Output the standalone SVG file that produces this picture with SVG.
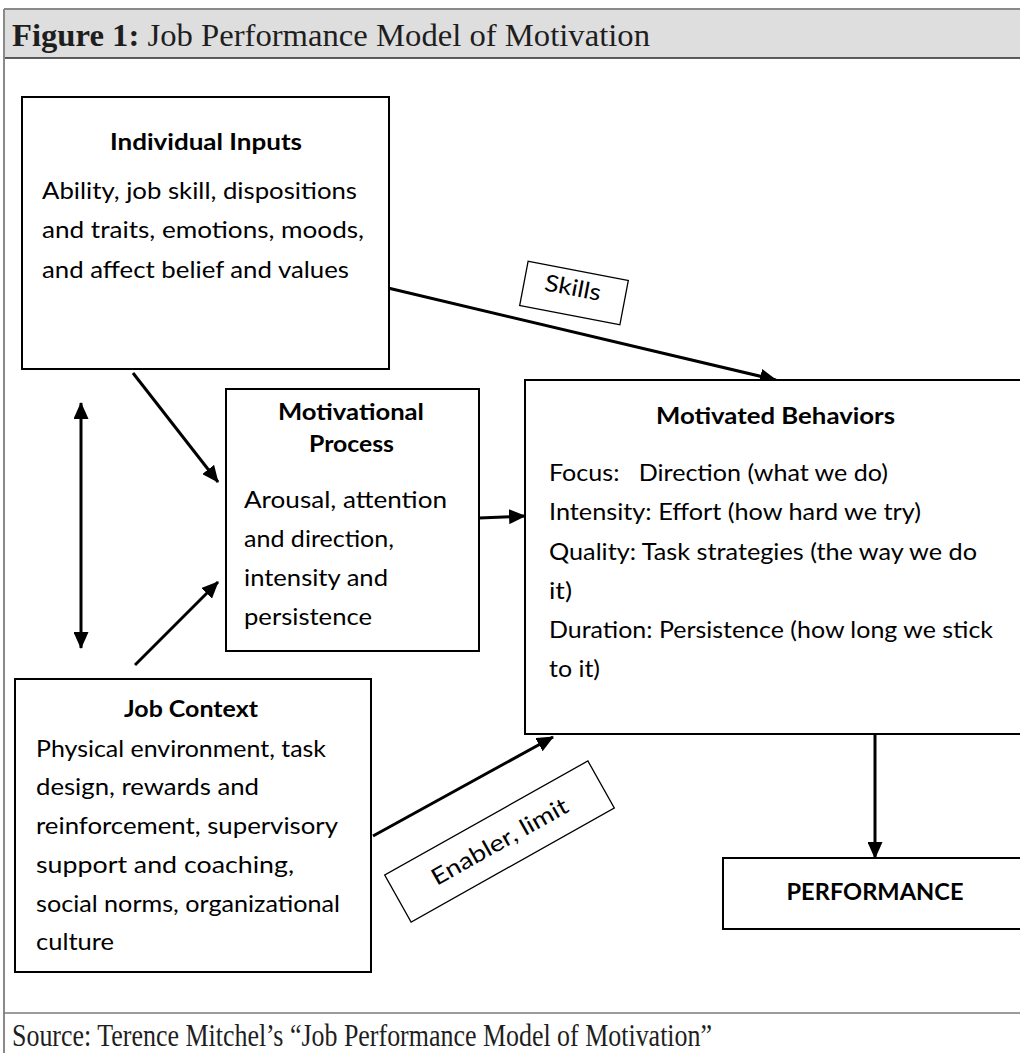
<svg xmlns="http://www.w3.org/2000/svg" width="1020" height="1053" viewBox="0 0 1020 1053">
<style>
  .box { fill: #fff; stroke: #000; stroke-width: 2; }
  .lbl { fill: #fff; stroke: #000; stroke-width: 1.3; }
  .t { font-family: Lato, "Liberation Sans", sans-serif; font-size: 23px; fill: #000; }
  .b { font-weight: bold; font-size: 22px; }
  .c { text-anchor: middle; }
  .conn { stroke: #000; stroke-width: 3; fill: none; }
  .serif { font-family: "Liberation Serif", serif; font-size: 31px; fill: #1e1e1e; }
</style>
<defs>
  <marker id="ah" markerUnits="userSpaceOnUse" markerWidth="17" markerHeight="15" refX="16" refY="7.5" orient="auto-start-reverse" viewBox="0 0 17 15">
    <path d="M0,0 L17,7.5 L0,15 z" fill="#000"/>
  </marker>
</defs>
<rect x="0" y="0" width="1020" height="1053" fill="#fff"/>
<g id="frame">
  <rect x="4" y="9" width="1020" height="49" fill="#dedede"/>
  <line x1="4" y1="9" x2="1020" y2="9" stroke="#8a8a8a" stroke-width="2"/>
  <line x1="4" y1="58" x2="1020" y2="58" stroke="#2a2a2a" stroke-width="1.5"/>
  <line x1="4" y1="9" x2="4" y2="1053" stroke="#8a8a8a" stroke-width="2"/>
  <line x1="4" y1="1013" x2="1020" y2="1013" stroke="#7a7a7a" stroke-width="1.5"/>
  <text class="serif" x="12" y="46" textLength="638" lengthAdjust="spacingAndGlyphs"><tspan font-weight="bold">Figure 1:</tspan> Job Performance Model of Motivation</text>
  <text class="serif" x="12" y="1046" textLength="700" lengthAdjust="spacingAndGlyphs">Source: Terence Mitchel’s “Job Performance Model of Motivation”</text>
</g>
<g id="connectors">
  <line class="conn" x1="388" y1="288" x2="776" y2="380" marker-end="url(#ah)"/>
  <line class="conn" x1="133" y1="373" x2="218" y2="482" marker-end="url(#ah)"/>
  <line class="conn" x1="135" y1="665" x2="218" y2="582" marker-end="url(#ah)"/>
  <line class="conn" x1="81" y1="403" x2="81" y2="648" marker-start="url(#ah)" marker-end="url(#ah)"/>
  <line class="conn" x1="479" y1="518" x2="525" y2="516" marker-end="url(#ah)"/>
  <line class="conn" x1="373" y1="836" x2="553" y2="737" marker-end="url(#ah)"/>
  <line class="conn" x1="875" y1="734" x2="875" y2="858" marker-end="url(#ah)"/>
</g>
<g id="label-skills" transform="translate(574,293) rotate(10.8)">
  <rect class="lbl" x="-51" y="-22.5" width="102" height="45"/>
  <text class="t c" x="-2" y="3" font-size="23" textLength="57" lengthAdjust="spacingAndGlyphs">Skills</text>
</g>
<g id="label-enabler" transform="translate(499.5,841.5) rotate(-29.3)">
  <rect class="lbl" x="-116.5" y="-27" width="233" height="54"/>
  <text class="t c" x="0" y="8" font-size="23" textLength="153" lengthAdjust="spacingAndGlyphs">Enabler, limit</text>
</g>
<g id="individual-inputs">
  <rect class="box" x="22" y="97" width="367" height="272"/>
  <text class="t b c" x="206" y="150" textLength="192" lengthAdjust="spacingAndGlyphs">Individual Inputs</text>
  <text class="t" x="42" y="199" textLength="315" lengthAdjust="spacingAndGlyphs">Ability, job skill, dispositions</text>
  <text class="t" x="42" y="238" textLength="322" lengthAdjust="spacingAndGlyphs">and traits, emotions, moods,</text>
  <text class="t" x="42" y="278" textLength="307" lengthAdjust="spacingAndGlyphs">and affect belief and values</text>
</g>
<g id="motivational-process">
  <rect class="box" x="226" y="389" width="253" height="262"/>
  <text class="t b c" x="351" y="420" textLength="146" lengthAdjust="spacingAndGlyphs">Motivational</text>
  <text class="t b c" x="351.5" y="452" textLength="85" lengthAdjust="spacingAndGlyphs">Process</text>
  <text class="t" x="244" y="508" textLength="203" lengthAdjust="spacingAndGlyphs">Arousal, attention</text>
  <text class="t" x="244" y="547" textLength="150" lengthAdjust="spacingAndGlyphs">and direction,</text>
  <text class="t" x="244" y="586" textLength="144" lengthAdjust="spacingAndGlyphs">intensity and</text>
  <text class="t" x="244" y="625" textLength="128" lengthAdjust="spacingAndGlyphs">persistence</text>
</g>
<g id="motivated-behaviors">
  <rect class="box" x="525" y="380" width="520" height="354"/>
  <text class="t b c" x="775.5" y="424" textLength="239" lengthAdjust="spacingAndGlyphs">Motivated Behaviors</text>
  <text class="t" x="549" y="481" xml:space="preserve" textLength="339" lengthAdjust="spacingAndGlyphs">Focus:   Direction (what we do)</text>
  <text class="t" x="549" y="520" textLength="372" lengthAdjust="spacingAndGlyphs">Intensity: Effort (how hard we try)</text>
  <text class="t" x="549" y="560" textLength="428" lengthAdjust="spacingAndGlyphs">Quality: Task strategies (the way we do</text>
  <text class="t" x="549" y="599" textLength="23" lengthAdjust="spacingAndGlyphs">it)</text>
  <text class="t" x="549" y="638" textLength="444" lengthAdjust="spacingAndGlyphs">Duration: Persistence (how long we stick</text>
  <text class="t" x="549" y="677" textLength="51" lengthAdjust="spacingAndGlyphs">to it)</text>
</g>
<g id="job-context">
  <rect class="box" x="15" y="679" width="356" height="293"/>
  <text class="t b c" x="191" y="717" textLength="134" lengthAdjust="spacingAndGlyphs">Job Context</text>
  <text class="t" x="36" y="757" textLength="290" lengthAdjust="spacingAndGlyphs">Physical environment, task</text>
  <text class="t" x="36" y="795" textLength="223" lengthAdjust="spacingAndGlyphs">design, rewards and</text>
  <text class="t" x="36" y="834" textLength="302" lengthAdjust="spacingAndGlyphs">reinforcement, supervisory</text>
  <text class="t" x="36" y="873" textLength="258" lengthAdjust="spacingAndGlyphs">support and coaching,</text>
  <text class="t" x="36" y="912" textLength="304" lengthAdjust="spacingAndGlyphs">social norms, organizational</text>
  <text class="t" x="36" y="950" textLength="78" lengthAdjust="spacingAndGlyphs">culture</text>
</g>
<g id="performance">
  <rect class="box" x="723" y="858" width="320" height="71"/>
  <text class="t b c" x="875" y="900" textLength="177" lengthAdjust="spacingAndGlyphs">PERFORMANCE</text>
</g>
</svg>
